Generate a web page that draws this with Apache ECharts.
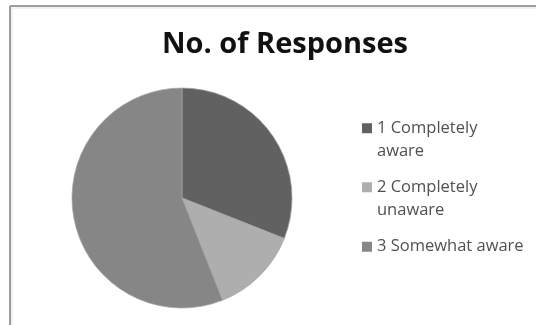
<!DOCTYPE html>
<html>
<head>
<meta charset="utf-8">
<script src="https://cdn.jsdelivr.net/npm/echarts@6/dist/echarts.min.js"></script>
<style>
  html, body { margin: 0; padding: 0; background: #fff; }
  #chart { width: 536px; height: 325px; }
</style>
</head>
<body>
<div id="chart"></div>
<script>
// Survey responses
const titleText = 'No. of Responses';
const categories = ['1 Completely aware', '2 Completely unaware', '3 Somewhat aware'];
const responses = [31, 13, 56];
const sliceColors = ['#616161', '#aeaeae', '#868686'];
// legend labels, wrapped as in the chart
const legendLines = [['1 Completely', 'aware'], ['2 Completely', 'unaware'], ['3 Somewhat aware']];

const LH = 23.5;          // legend line height
const legendTops = [93, 152, 235];

const chart = echarts.init(document.getElementById('chart'), null, { renderer: 'canvas' });

// one legend per entry; wrapped entries get an empty leading line so the
// marker sits level with the first line of text
const legends = categories.map((name, i) => ({
  data: [name],
  orient: 'vertical',
  left: 362,
  top: legendTops[i],
  padding: 0,
  itemWidth: 10,
  itemHeight: 10,
  itemGap: 0,
  icon: 'rect',
  selectedMode: false,
  itemStyle: { borderWidth: 0 },
  formatter: () => (legendLines[i].length > 1 ? '\n' : '') + legendLines[i].join('\n'),
  textStyle: {
    fontFamily: 'Open Sans',
    fontSize: 16.5,
    color: '#505050',
    lineHeight: LH
  }
}));

chart.setOption({
  animation: false,
  backgroundColor: '#ffffff',
  color: sliceColors,
  title: {
    text: titleText,
    left: 280,
    top: 25,
    textAlign: 'center',
    textStyle: {
      fontFamily: 'Open Sans',
      fontWeight: 'bold',
      fontSize: 29,
      color: '#111111'
    }
  },
  legend: legends,
  graphic: [
    { type: 'line', shape: { x1: 10, y1: 6, x2: 536, y2: 6 }, style: { stroke: '#9c9c9c', lineWidth: 2 } },
    { type: 'line', shape: { x1: 10, y1: 6, x2: 10, y2: 325 }, style: { stroke: '#9c9c9c', lineWidth: 2 } },
    { type: 'line', shape: { x1: 12, y1: 8, x2: 536, y2: 8 }, style: { stroke: '#e6e6e6', lineWidth: 1 } },
    { type: 'line', shape: { x1: 12, y1: 8, x2: 12, y2: 325 }, style: { stroke: '#e6e6e6', lineWidth: 1 } }
  ],
  series: [{
    type: 'pie',
    center: [182, 198],
    radius: 110,
    startAngle: 90,
    clockwise: true,
    label: { show: false },
    labelLine: { show: false },
    emphasis: { disabled: true },
    itemStyle: { borderColor: '#a4a4a4', borderWidth: 0.7 },
    data: categories.map((name, i) => ({ name, value: responses[i] }))
  }]
});
</script>
</body>
</html>
